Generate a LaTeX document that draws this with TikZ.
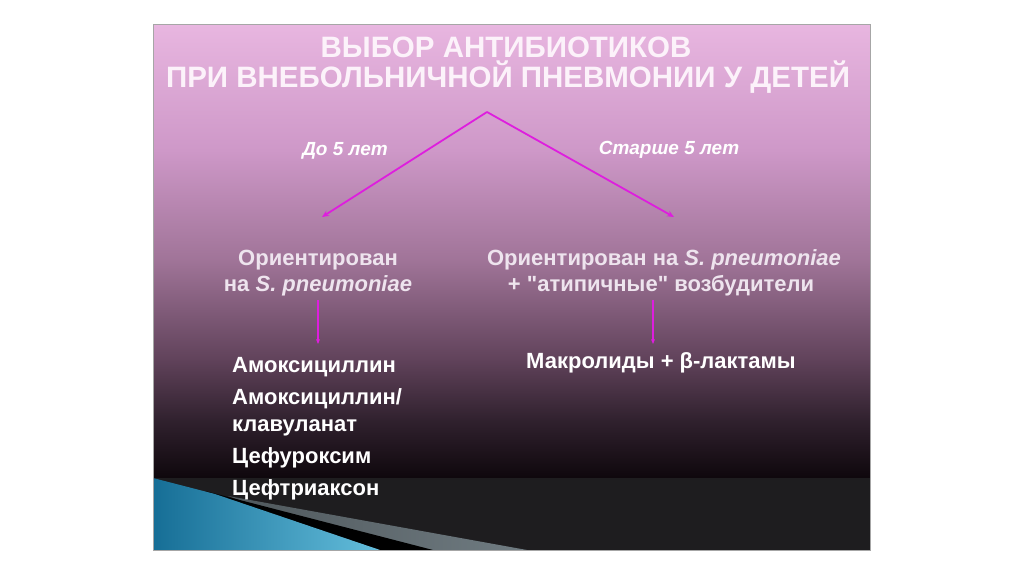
\documentclass[tikz,border=0pt]{standalone}
\usepackage{fontspec}
\setmainfont{Liberation Sans}
\newfontfamily\bodyfont{Liberation Sans}
\usetikzlibrary{arrows.meta}
\definecolor{bgA}{RGB}{232,182,224}
\definecolor{bgB}{RGB}{206,152,200}
\definecolor{bgC}{RGB}{160,116,152}
\definecolor{bgD}{RGB}{96,66,90}
\definecolor{bgE}{RGB}{48,33,46}
\definecolor{bgF}{RGB}{14,7,12}
\definecolor{band}{RGB}{30,29,31}
\definecolor{mag}{RGB}{222,30,222}
\definecolor{ttl}{RGB}{252,242,250}
\definecolor{midtxt}{RGB}{238,228,238}
\definecolor{blueA}{RGB}{22,110,150}
\definecolor{blueB}{RGB}{100,190,220}
\definecolor{stripe}{RGB}{112,124,130}
\tikzset{
  titletxt/.style={font=\bodyfont\fontsize{29.5}{34}\selectfont\bfseries, text=ttl, inner sep=0pt, anchor=base},
  agetxt/.style={font=\bodyfont\fontsize{19}{22}\selectfont\bfseries\itshape, text=white, inner sep=0pt, anchor=base},
  midnode/.style={font=\bodyfont\fontsize{22}{26}\selectfont\bfseries, text=midtxt, inner sep=0pt, anchor=base},
  drugtxt/.style={font=\bodyfont\fontsize{22}{24}\selectfont\bfseries, text=white, inner sep=0pt, anchor=base west},
  bigarrow/.style={draw=mag, line width=1.8pt, -{Stealth[length=7pt,width=6pt]}},
  smallarrow/.style={draw=mag, line width=1.4pt, -{Stealth[length=5pt,width=4pt]}}
}
\begin{document}
\begin{tikzpicture}[x=1pt,y=-1pt]
\useasboundingbox (0,0) rectangle (1024,574);
\fill[white] (0,0) rectangle (1024,574);
% slide background
\shade[top color=bgA, bottom color=bgB] (153,24) rectangle (870,150.5);
\shade[top color=bgB, bottom color=bgC] (153,150) rectangle (870,260.5);
\shade[top color=bgC, bottom color=bgD] (153,260) rectangle (870,360.5);
\shade[top color=bgD, bottom color=bgE] (153,360) rectangle (870,420.5);
\shade[top color=bgE, bottom color=bgF] (153,420) rectangle (870,478.5);
\fill[band] (153,478) rectangle (870,550);
% bottom-left decoration
\shade[left color=stripe!70!black, right color=stripe] (228,496) -- (527,550) -- (380,550) -- cycle;
\fill[black] (205,491) -- (433,550) -- (380,550) -- cycle;
\shade[left color=blueA, right color=blueB] (153,478) -- (215,494) -- (380,550) -- (153,550) -- cycle;
\draw[gray!70, line width=0.6pt] (153,24) rectangle (870,550);
% title
\node[titletxt] (t1) at (506,57) {ВЫБОР АНТИБИОТИКОВ};
\node[titletxt] (t2) at (508,87) {ПРИ ВНЕБОЛЬНИЧНОЙ ПНЕВМОНИИ У ДЕТЕЙ};
% branches
\coordinate (apex) at (487,112);
\coordinate (ltip) at (322,217);
\coordinate (rtip) at (674,217);
\draw[bigarrow] (apex) -- (ltip);
\draw[bigarrow] (apex) -- (rtip);
\node[agetxt] (age1) at (345,155) {До 5 лет};
\node[agetxt] (age2) at (669,154) {Старше 5 лет};
% middle texts
\node[midnode] (l1) at (318,265) {Ориентирован};
\node[midnode] (l2) at (318,291) {на \textit{S. pneumoniae}};
\node[midnode] (r1) at (664,265) {Ориентирован на \textit{S. pneumoniae}};
\node[midnode] (r2) at (661,291) {+ "атипичные" возбудители};
% small arrows
\coordinate (la) at (318,300);
\coordinate (lb) at (318,344);
\coordinate (ra) at (653,300);
\coordinate (rb) at (653,344);
\draw[smallarrow] (la) -- (lb);
\draw[smallarrow] (ra) -- (rb);
% drugs
\node[drugtxt] (d1) at (232,372) {Амоксициллин};
\node[drugtxt] (d2) at (232,404) {Амоксициллин/};
\node[drugtxt] (d3) at (232,431) {клавуланат};
\node[drugtxt] (d4) at (232,463) {Цефуроксим};
\node[drugtxt] (d5) at (232,495) {Цефтриаксон};
\node[midnode, text=white] (m1) at (661,368) {Макролиды + β-лактамы};
\end{tikzpicture}
\end{document}
